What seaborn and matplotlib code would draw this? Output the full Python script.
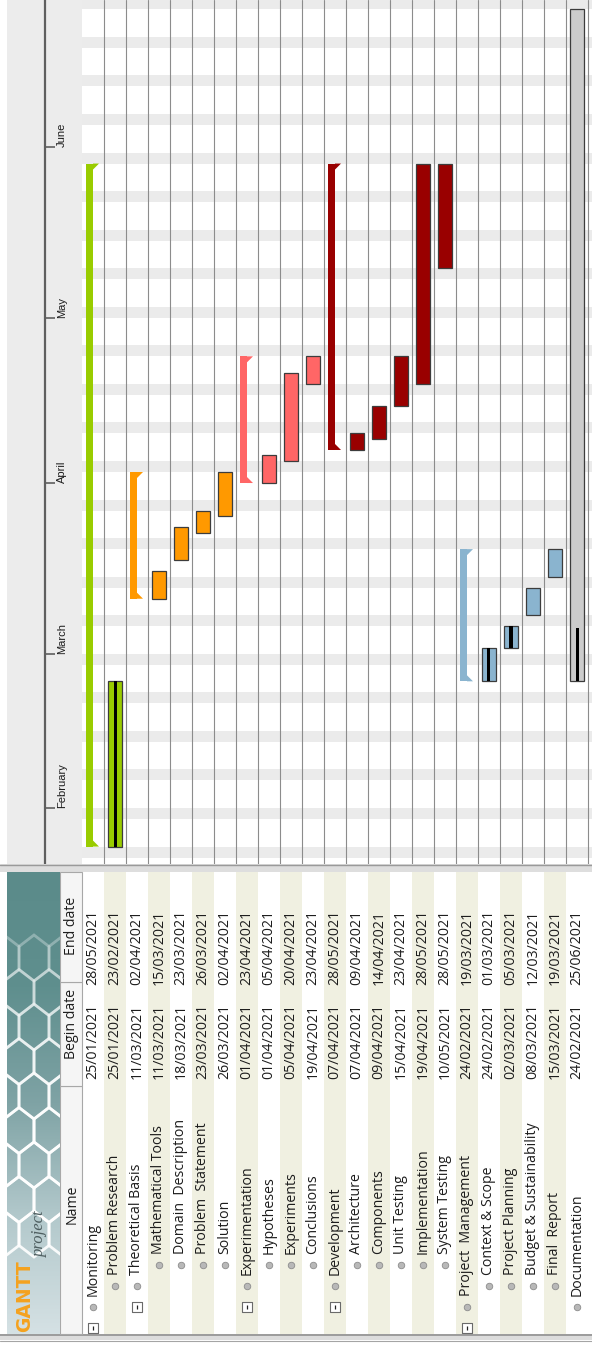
import matplotlib
matplotlib.use("Agg")
import numpy as np
import pandas as pd
import matplotlib.pyplot as plt
import matplotlib.dates as mdates
from matplotlib.patches import Rectangle, Polygon
from matplotlib.colors import LinearSegmentedColormap
import seaborn as sns

sns.set_style("white")
plt.rcParams['font.family'] = ['Open Sans', 'DejaVu Sans']

# ---- data ----
task_names = ["Monitoring", "Problem Research", "Theoretical Basis", "Mathematical Tools",
              "Domain  Description", "Problem  Statement", "Solution", "Experimentation",
              "Hypotheses", "Experiments", "Conclusions", "Development", "Architecture",
              "Components", "Unit Testing", "Implementation", "System Testing",
              "Project  Management", "Context & Scope", "Project Planning",
              "Budget & Sustainability", "Final  Report", "Documentation"]
begin_dates = ["25/01/2021", "25/01/2021", "11/03/2021", "11/03/2021", "18/03/2021",
               "23/03/2021", "26/03/2021", "01/04/2021", "01/04/2021", "05/04/2021",
               "19/04/2021", "07/04/2021", "07/04/2021", "09/04/2021", "15/04/2021",
               "19/04/2021", "10/05/2021", "24/02/2021", "24/02/2021", "02/03/2021",
               "08/03/2021", "15/03/2021", "24/02/2021"]
end_dates = ["28/05/2021", "23/02/2021", "02/04/2021", "15/03/2021", "23/03/2021",
             "26/03/2021", "02/04/2021", "23/04/2021", "05/04/2021", "20/04/2021",
             "23/04/2021", "28/05/2021", "09/04/2021", "14/04/2021", "23/04/2021",
             "28/05/2021", "28/05/2021", "19/03/2021", "01/03/2021", "05/03/2021",
             "12/03/2021", "19/03/2021", "25/06/2021"]
levels = [0, 1, 1, 2, 2, 2, 2, 1, 2, 2, 2, 1, 2, 2, 2, 2, 2, 0, 1, 1, 1, 1, 0]
is_summary = [True, False, True, False, False, False, False, True, False, False, False,
              True, False, False, False, False, False, True, False, False, False, False, False]
progress = [0, 100, 0, 0, 0, 0, 0, 0, 0, 0, 0, 0, 0, 0, 0, 0, 0, 0, 100, 100, 0, 0, 8]
groups = ["mon", "mon", "theo", "theo", "theo", "theo", "theo", "exp", "exp", "exp", "exp",
          "dev", "dev", "dev", "dev", "dev", "dev", "pm", "pm", "pm", "pm", "pm", "doc"]
group_colors = {"mon": "#99cc00", "theo": "#ff9900", "exp": "#ff6666",
                "dev": "#990000", "pm": "#8ab4cf", "doc": "#cccccc"}
month_labels = ["February", "March", "April", "May", "June"]
month_starts = ["2021-02-01", "2021-03-01", "2021-04-01", "2021-05-01", "2021-06-01"]
column_headers = ["Name", "Begin date", "End date"]

# ---- layout (pixels of the 592x1345 screenshot, which is rotated 90 degrees) ----
W, H, DPI = 592, 1345, 100
ROW = 22.0
CHART_LEFT, CHART_BOT = 82, 864
TABLE_TOP, TABLE_BOT = 872, 1334
PX_PER_DAY = 5.508
FEB1_PX = 808
TEXT_COLOR = "#1c1c1c"
TABLE_FS = 10.2

fig = plt.figure(figsize=(W / DPI, H / DPI), dpi=DPI)
fig.patch.set_facecolor("white")


def px_axes(x0, y0, x1, y1):
    a = fig.add_axes([x0 / W, 1 - y1 / H, (x1 - x0) / W, (y1 - y0) / H])
    a.set_axis_off()
    return a


feb1 = mdates.date2num(pd.Timestamp("2021-02-01"))
y_lo = feb1 - (CHART_BOT - FEB1_PX) / PX_PER_DAY
y_hi = feb1 + FEB1_PX / PX_PER_DAY
begins = mdates.date2num(pd.to_datetime(begin_dates, format="%d/%m/%Y"))
ends = mdates.date2num(pd.to_datetime(end_dates, format="%d/%m/%Y")) + 1
months = mdates.date2num(pd.to_datetime(month_starts))
colors = [group_colors[g] for g in groups]

# ---- timeline header ----
axt = px_axes(7, 0, CHART_LEFT, CHART_BOT)
axt.set_xlim(7, CHART_LEFT)
axt.set_ylim(y_lo, y_hi)
axt.add_patch(Rectangle((0, 0), 1, 1, transform=axt.transAxes, color="#ececec", zorder=0))
axt.axvline(45, color="#5f5f5f", lw=1.6)
axt.hlines(months, 45, 55, color="#5f5f5f", lw=1.2)
for m, lab in zip(months, month_labels):
    axt.text(62, m, lab, rotation=90, rotation_mode="anchor", ha="left", va="center",
             fontsize=8, family=["Liberation Sans"], color=TEXT_COLOR)

# ---- gantt chart ----
ax = px_axes(CHART_LEFT, 0, W, CHART_BOT)
ax.set_xlim(0, (W - CHART_LEFT) / ROW)
ax.set_ylim(y_lo, y_hi)
for sat in pd.date_range("2021-01-01", "2021-07-31", freq="W-SAT"):
    n = mdates.date2num(sat)
    ax.axhspan(n, n + 2, color="#ebebeb", lw=0, zorder=0)
for k in range(1, len(task_names) + 1):
    ax.axvline(k, color="#8c8c8c", lw=0.8, zorder=1)

tip = 6 / PX_PER_DAY
for i, (b, e, c, summ, p) in enumerate(zip(begins, ends, colors, is_summary, progress)):
    if summ:
        ax.bar(i + 7.5 / ROW, e - b, bottom=b, width=7 / ROW, color=c, lw=0, zorder=3)
        x0, x1 = i + 11 / ROW, i + 17 / ROW
        ax.fill([x0, x1, x0], [e, e, e - tip], color=c, lw=0, zorder=3)
        ax.fill([x0, x1, x0], [b, b, b + tip], color=c, lw=0, zorder=3)
    else:
        ax.bar(i + 0.5, e - b, bottom=b, width=14 / ROW, color=c,
               edgecolor="#3c3c3c", lw=0.9, zorder=3)
        if p:
            ax.bar(i + 0.5, (e - b) * p / 100, bottom=b, width=3 / ROW,
                   color="black", lw=0, zorder=4)

# ---- task table ----
axb = px_axes(0, CHART_BOT, W, H)
axb.axhspan(CHART_BOT, TABLE_TOP, color="#dedede", lw=0)
axb.axhline(CHART_BOT + 0.5, color="#9a9a9a", lw=1)
axb.axhline(TABLE_BOT + 1, color="#8a8a8a", lw=1.2)
axb.axhspan(TABLE_BOT + 2, TABLE_BOT + 6, color="#dcdcdc", lw=0)
axb.axhline(TABLE_BOT + 6.5, color="#a5a5a5", lw=0.8)

n = len(task_names)
row_fill = ["#ffffff" if i % 2 == 0 else "#f0f0e1" for i in range(n)]
axb.bar(np.arange(n) + 0.5, TABLE_BOT - TABLE_TOP, bottom=TABLE_TOP, width=1,
        color=row_fill, lw=0, zorder=1)

col_edges = [(1086, TABLE_BOT), (982, 1086), (TABLE_TOP, 982)]
header_mid = [1204, 1024, 926]
for (lo, hi), mid, name in zip(col_edges, header_mid, column_headers):
    axb.bar(-0.5, hi - lo, bottom=lo, width=1, color="#f5f5f5",
            edgecolor="#a8a8a8", lw=0.8, zorder=2)
    axb.text(-0.47, mid, name, rotation=90, ha="center", va="center",
             fontsize=TABLE_FS, color=TEXT_COLOR, zorder=3)

bullet_y = {0: 1307, 1: 1286, 2: 1265}
xs = np.arange(n) + 0.5
by = np.array([bullet_y[l] for l in levels])
bullets = pd.DataFrame({"x": xs, "y": by})
sns.scatterplot(data=bullets, x="x", y="y", ax=axb, s=22, color="#b8b8b8",
                edgecolor="#8c8c8c", linewidth=0.6, zorder=3, legend=False)
box_x = xs[np.array(is_summary)]
box_y = by[np.array(is_summary)] + 21
axb.scatter(box_x, box_y, s=42, marker="s", facecolor="white", edgecolor="#6a6a6a",
            linewidth=0.8, zorder=3)
axb.scatter(box_x, box_y, s=10, marker="|", color="#222222", linewidth=0.9, zorder=4)

for x, yb, name, bd, ed in zip(xs, by, task_names, begin_dates, end_dates):
    axb.text(x, yb - 11, name, rotation=90, rotation_mode="anchor", ha="left",
             va="center", fontsize=TABLE_FS, color=TEXT_COLOR, zorder=3)
    axb.text(x, 1079, bd, rotation=90, rotation_mode="anchor", ha="left",
             va="center", fontsize=TABLE_FS, color=TEXT_COLOR, zorder=3)
    axb.text(x, 985, ed, rotation=90, rotation_mode="anchor", ha="left",
             va="center", fontsize=TABLE_FS, color=TEXT_COLOR, zorder=3)
axb.set_xlim(-CHART_LEFT / ROW, (W - CHART_LEFT) / ROW)
axb.set_ylim(H, CHART_BOT)

# ---- GanttProject logo panel ----
axl = px_axes(7, TABLE_TOP, 60, TABLE_BOT)
teal = LinearSegmentedColormap.from_list("teal", ["#5b8b8a", "#5f8f8e", "#7fa3a5",
                                                  "#b3c9cc", "#d5e1e4"])
grad = np.linspace(0, 1, 256)[:, None]
axl.imshow(grad, cmap=teal, aspect="auto", extent=(7, 60, TABLE_BOT, TABLE_TOP), zorder=0)
hw, hh = 15, 23
for j, cy in enumerate(np.arange(958, 1262, 1.5 * hh)):
    for cx in np.arange(4, 76, 2 * hw) + (hw if j % 2 else 0):
        verts = [(cx, cy - hh), (cx + hw, cy - hh / 2), (cx + hw, cy + hh / 2),
                 (cx, cy + hh), (cx - hw, cy + hh / 2), (cx - hw, cy - hh / 2)]
        fade = min(1.0, 0.35 + (cy - 958) / 260)
        axl.add_patch(Polygon(verts, closed=True, facecolor="none", edgecolor="white",
                              lw=2.0, alpha=0.9 * fade, zorder=1))
axl.text(25, 1296, "GANTT", rotation=90, ha="center", va="center", fontsize=13.5,
         weight="bold", color="#f5a21e", family=["DejaVu Sans"], zorder=3)
axl.text(40, 1234, "project", rotation=90, ha="center", va="center", fontsize=12,
         style="italic", color="#4e5e60", family=["Liberation Serif"], zorder=3)
axl.set_xlim(7, 60)
axl.set_ylim(TABLE_BOT, TABLE_TOP)

fig.savefig("out.png", dpi=DPI)
